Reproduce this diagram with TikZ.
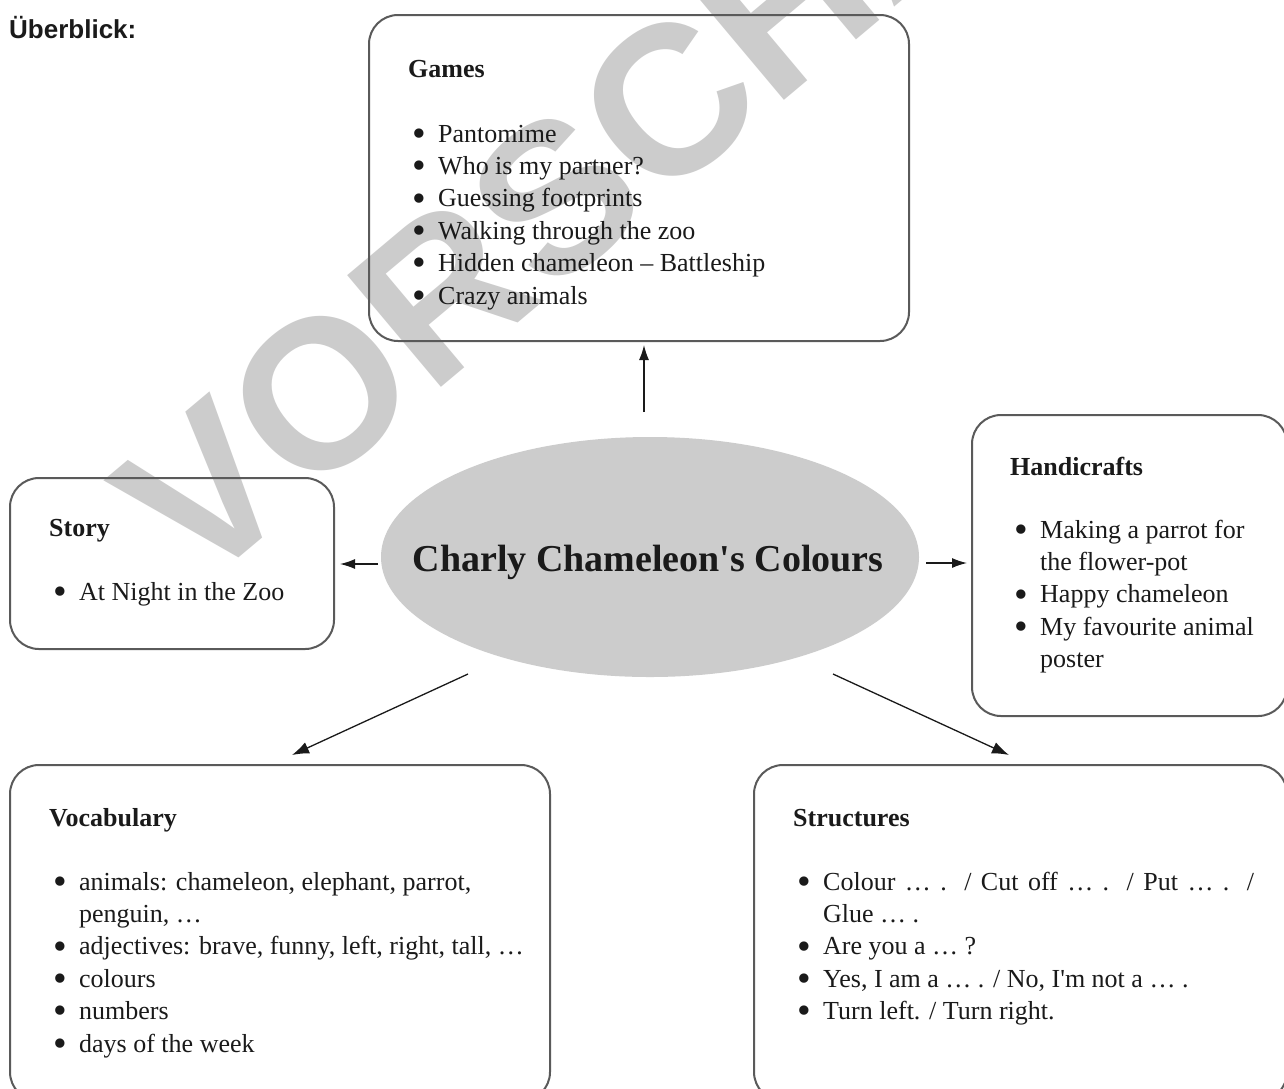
\documentclass[tikz,border=0pt]{standalone}
\usepackage{fontspec}
\setmainfont{Liberation Serif}[Ligatures=TeXOff]
\newfontfamily\headsans{Liberation Sans}
\usetikzlibrary{shapes.geometric,arrows.meta,calc}
\definecolor{boxgray}{HTML}{5A5A5A}
\definecolor{inkcol}{HTML}{1A1A1A}
\definecolor{wmgray}{HTML}{CCCCCC}
\newcommand{\bigbullet}{\raisebox{-4.3pt}{\fontsize{39}{39}\selectfont\textbullet}}
\newcommand{\bitem}[1]{\par\hangindent=26pt\hangafter=1\noindent\makebox[26pt][l]{\bigbullet}#1}
\newcommand{\blist}[1]{\parbox[t]{560pt}{\raggedright #1}}
\tikzset{
  box/.style={draw=boxgray, line width=2pt, rounded corners=29pt, inner sep=0, anchor=north west},
  head/.style={anchor=base west, inner sep=0, font=\fontsize{26}{32.4}\selectfont\bfseries, text=inkcol},
  list/.style={anchor=base west, inner sep=0, font=\fontsize{26}{32.4}\selectfont, text=inkcol},
  arr/.style={-{Latex[length=15pt,width=10pt]}, line width=1.3pt, draw=inkcol},
  diag/.style={-{Latex[length=17pt,width=12pt]}, line width=1.3pt, draw=inkcol},
}
\begin{document}
\begin{tikzpicture}[x=1pt,y=-1pt]
\useasboundingbox (0,0) rectangle (1284,1088);
\clip (0,0) rectangle (1284,1088);
\fill[white] (0,0) rectangle (1284,1088);
% watermark
\node[rotate=40, inner sep=0, text=wmgray, font=\headsans\bfseries\fontsize{212}{212}\selectfont] (wm) at (614,148) {VORSCHAU};
% heading
\node[anchor=base west, inner sep=0, text=inkcol, font=\headsans\bfseries\fontsize{26}{30}\selectfont] (ueb) at (9,38) {Überblick:};
% centre
\node[ellipse, fill=wmgray, minimum width=538, minimum height=240, inner sep=0] (ell) at (650,557) {};
\node[anchor=base, inner sep=0, text=inkcol, font=\fontsize{38}{44}\selectfont\bfseries] (ctitle) at (648,571) {Charly Chameleon's Colours};
% boxes
\node[box, minimum width=540, minimum height=326] (games) at (368,14) {};
\node[box, minimum width=324, minimum height=171] (story) at (9,477) {};
\node[box, minimum width=315, minimum height=301] (handi) at (971,414) {};
\node[box, minimum width=540, minimum height=336] (vocab) at (9,764) {};
\node[box, minimum width=533, minimum height=336] (struct) at (753,764) {};
% titles
\node[head] (gamesT) at (408,77) {Games};
\node[head] (storyT) at (49,536) {Story};
\node[head] (handiT) at (1010,475) {Handicrafts};
\node[head] (vocabT) at (49,826) {Vocabulary};
\node[head] (structT) at (793,826) {Structures};
% lists
\node[list] (gamesL) at (412,142) {\blist{%
  \bitem{Pantomime}\bitem{Who is my partner?}\bitem{Guessing footprints}%
  \bitem{Walking through the zoo}\bitem{Hidden chameleon – Battleship}\bitem{Crazy animals}}};
\node[list] (storyL) at (53,600) {\blist{\bitem{At Night in the Zoo}}};
\node[list] (handiL) at (1014,538) {\blist{%
  \bitem{Making a parrot for\newline the flower-pot}\bitem{Happy chameleon}%
  \bitem{My favourite animal\newline poster}}};
\node[list] (vocabL) at (53,890) {\blist{%
  \bitem{animals: chameleon, elephant, parrot,\newline penguin, …}%
  \bitem{adjectives: brave, funny, left, right, tall, …}%
  \bitem{colours}\bitem{numbers}\bitem{days of the week}}};
\node[list] (structL) at (797,890) {\blist{%
  \bitem{\makebox[431pt][s]{Colour … . / Cut off … . / Put … . /}\newline Glue … .}%
  \bitem{Are you a … ?}%
  \bitem{Yes, I am a … . / No, I'm not a … .}%
  \bitem{Turn left. / Turn right.}}};
% connectors
\coordinate (upS) at (644,412);
\coordinate (lS) at (378,564);
\coordinate (rS) at (926,563);
\coordinate (dlS) at (468,674);
\coordinate (dlE) at (292,755);
\coordinate (drS) at (833,674);
\coordinate (drE) at (1009,755);
\draw[arr, shorten >=3pt] (upS) -- (games.south -| upS);
\draw[arr, shorten >=5pt] (lS) -- (lS -| story.east);
\draw[arr, shorten >=4pt] (rS) -- (rS -| handi.west);
\draw[diag] (dlS) -- (dlE);
\draw[diag] (drS) -- (drE);
\end{tikzpicture}
\end{document}
